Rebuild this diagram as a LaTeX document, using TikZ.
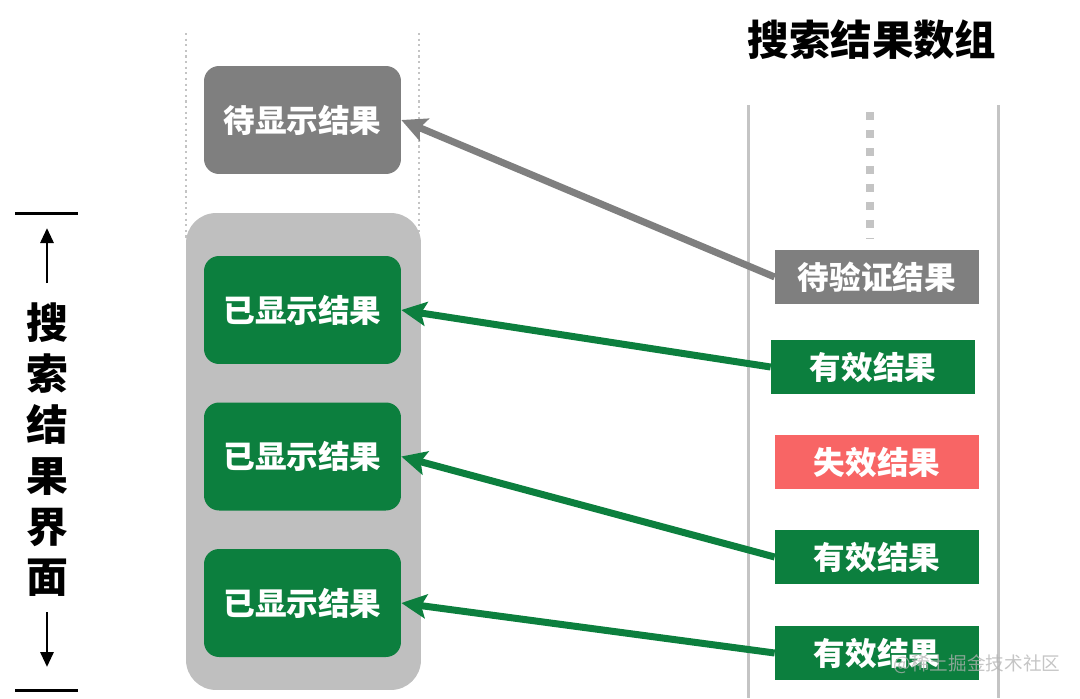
\documentclass[tikz,border=0pt]{standalone}
\usepackage{fontspec}
\setmainfont{Noto Sans CJK SC}
\usetikzlibrary{arrows.meta}

\definecolor{okgreen}{HTML}{0C7F3E}
\definecolor{waitgray}{HTML}{7F7F7F}
\definecolor{panelgray}{HTML}{BFBFBF}
\definecolor{railgray}{HTML}{C4C4C4}
\definecolor{badred}{HTML}{F86565}

\tikzset{
  shown/.style={rectangle, rounded corners=0.3cm, fill=okgreen, text=white,
    minimum width=3.94cm, minimum height=2.16cm, inner sep=0pt,
    font=\bfseries\fontsize{18}{18}\selectfont},
  item/.style={rectangle, fill=okgreen, text=white,
    minimum width=4.08cm, minimum height=1.08cm, inner sep=0pt,
    font=\bfseries\fontsize{18}{18}\selectfont},
  link/.style={line width=0.14cm, draw=okgreen,
    -{Stealth[length=0.5cm, width=0.48cm, inset=0.1cm]}},
}

\begin{document}
\begin{tikzpicture}[x=0.02cm, y=-0.02cm]
  \useasboundingbox (0, 0) rectangle (1080, 698);

  % view side
  \draw [railgray, line width=1.2pt, dotted] (186, 33) -- (186, 240);
  \draw [railgray, line width=1.2pt, dotted] (419, 33) -- (419, 240);
  \node (panel) [rectangle, rounded corners=0.6cm, fill=panelgray, minimum width=4.7cm, minimum height=9.54cm] at (303.5, 451.5) {};

  \node (pend) [shown, fill=waitgray] at (302.5, 120) {待显示结果};
  \node (s1) [shown] at (302.5, 310) {已显示结果};
  \node (s2) [shown] at (302.5, 456.5) {已显示结果};
  \node (s3) [shown] at (302.5, 603) {已显示结果};

  % side label
  \node (ui) [align=center, font=\bfseries\fontsize{23.8}{28.9}\selectfont] at (47, 450) {搜\\索\\结\\果\\界\\面};
  \draw [line width=0.06cm] (15, 213) -- (78, 213);
  \draw [line width=0.06cm] (15, 690) -- (78, 690);
  \coordinate (upfrom) at (47, 283);
  \coordinate (upto) at (47, 228);
  \coordinate (downfrom) at (47, 612);
  \coordinate (downto) at (47, 667);
  \draw [line width=0.06cm, -{Triangle[length=0.3cm, width=0.26cm]}] (upfrom) -- (upto);
  \draw [line width=0.06cm, -{Triangle[length=0.3cm, width=0.26cm]}] (downfrom) -- (downto);

  % result array
  \node (title) [font=\bfseries\fontsize{23.6}{24}\selectfont] at (872, 40) {搜索结果数组};
  \draw [railgray, line width=0.06cm] (748, 105) -- (748, 698);
  \draw [railgray, line width=0.06cm] (998, 105) -- (998, 698);
  \draw [railgray, line width=0.16cm, dash pattern=on 0.16cm off 0.2cm] (870, 112) -- (870, 238);

  \node (check) [item, fill=waitgray] at (877, 277) {待验证结果};
  \node (v1) [item] at (873, 367) {有效结果};
  \node (bad) [item, fill=badred] at (877, 462) {失效结果};
  \node (v2) [item] at (877, 557) {有效结果};
  \node (v3) [item] at (877, 653) {有效结果};

  \draw [link, draw=waitgray] (check.west) -- (pend.east);
  \draw [link] (v1.west) -- (s1.east);
  \draw [link] (v2.west) -- (s2.east);
  \draw [link] (v3.west) -- (s3.east);

  \node (mark) [text=gray!60, text opacity=0.75, font=\fontsize{10.6}{11}\selectfont] at (977, 664) {@稀土掘金技术社区};
\end{tikzpicture}
\end{document}
